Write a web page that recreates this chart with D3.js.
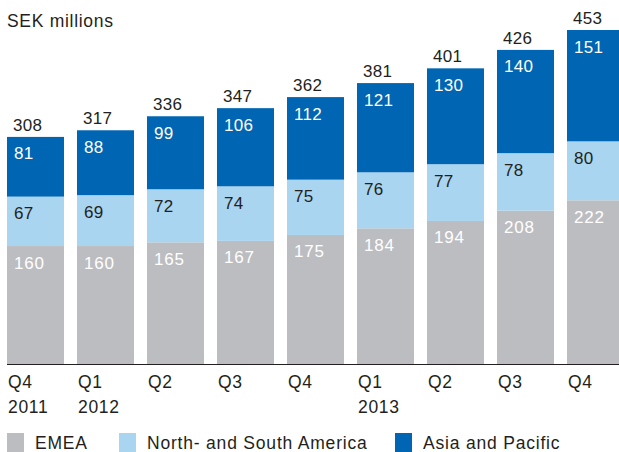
<!DOCTYPE html>
<html>
<head>
<meta charset="utf-8">
<script src="https://cdn.jsdelivr.net/npm/d3@7"></script>
<style>
body { margin: 0; background: #fff; }
text { font-family: "Liberation Sans", Arial, Helvetica, sans-serif; }
</style>
</head>
<body>
<div id="chart"></div>
<script>
var quarters = ["Q4", "Q1", "Q2", "Q3", "Q4", "Q1", "Q2", "Q3", "Q4"];
var years = ["2011", "2012", "", "", "", "2013", "", "", ""];
var emea = [160, 160, 165, 167, 175, 184, 194, 208, 222];
var americas = [67, 69, 72, 74, 75, 76, 77, 78, 80];
var asia = [81, 88, 99, 106, 112, 121, 130, 140, 151];
var totals = [308, 317, 336, 347, 362, 381, 401, 426, 453];
var seriesNames = ["EMEA", "North- and South America", "Asia and Pacific"];
var colors = ["#bcbdc1", "#a9d5f0", "#0065b2"];
var labelColors = ["#ffffff", "#231f20", "#ffffff"];

var svg = d3.select("#chart").append("svg").attr("width", 619).attr("height", 452);

var x = d3.scaleBand().domain(d3.range(quarters.length)).range([7, 624]).paddingInner(13 / 70).paddingOuter(0);
var y = d3.scaleLinear().domain([0, 453]).range([364, 30]);

svg.append("text").attr("x", 7).attr("y", 27).attr("font-size", 17.5)
  .attr("letter-spacing", 0.7).attr("fill", "#231f20").text("SEK millions");

var rows = quarters.map(function (q, i) {
  return { i: i, vals: [emea[i], americas[i], asia[i]] };
});
var stack = d3.stack().keys([0, 1, 2]).value(function (d, k) { return d.vals[k]; });
var layers = stack(rows);

layers.forEach(function (layer, k) {
  var g = svg.append("g");
  g.selectAll("rect").data(layer).enter().append("rect")
    .attr("x", function (d, i) { return x(i); })
    .attr("width", x.bandwidth())
    .attr("y", function (d) { return y(d[1]); })
    .attr("height", function (d) { return y(d[0]) - y(d[1]); })
    .attr("fill", colors[k]);
  g.selectAll("text").data(layer).enter().append("text")
    .attr("x", function (d, i) { return x(i) + 7; })
    .attr("y", function (d) { return y(d[1]) + 22.5; })
    .attr("font-size", 17)
    .attr("letter-spacing", k == 0 ? 0.8 : 0.3)
    .attr("fill", labelColors[k])
    .text(function (d) { return d.data.vals[k]; });
});

svg.selectAll(".total").data(totals).enter().append("text")
  .attr("class", "total")
  .attr("x", function (d, i) { return x(i) + 6; })
  .attr("y", function (d) { return y(d) - 6; })
  .attr("font-size", 17)
  .attr("letter-spacing", 0.3)
  .attr("fill", "#231f20")
  .text(function (d) { return d; });

svg.append("line").attr("x1", 7).attr("x2", 619).attr("y1", 364.5).attr("y2", 364.5)
  .attr("stroke", "#231f20").attr("stroke-width", 1);

svg.selectAll(".q").data(quarters).enter().append("text")
  .attr("x", function (d, i) { return x(i) + 1; })
  .attr("y", 388)
  .attr("font-size", 17.5)
  .attr("letter-spacing", 0.7)
  .attr("fill", "#231f20")
  .text(function (d) { return d; });

svg.selectAll(".yr").data(years).enter().append("text")
  .attr("x", function (d, i) { return x(i) + 1; })
  .attr("y", 413)
  .attr("font-size", 17.5)
  .attr("letter-spacing", 0.7)
  .attr("fill", "#231f20")
  .text(function (d) { return d; });

var legendX = [7, 119, 395];
seriesNames.forEach(function (name, k) {
  svg.append("rect").attr("x", legendX[k]).attr("y", 433).attr("width", 17).attr("height", 19).attr("fill", colors[k]);
  svg.append("text").attr("x", legendX[k] + 28).attr("y", 449).attr("font-size", 17.5)
    .attr("letter-spacing", 0.8).attr("fill", "#231f20").text(name);
});
</script>
</body>
</html>
